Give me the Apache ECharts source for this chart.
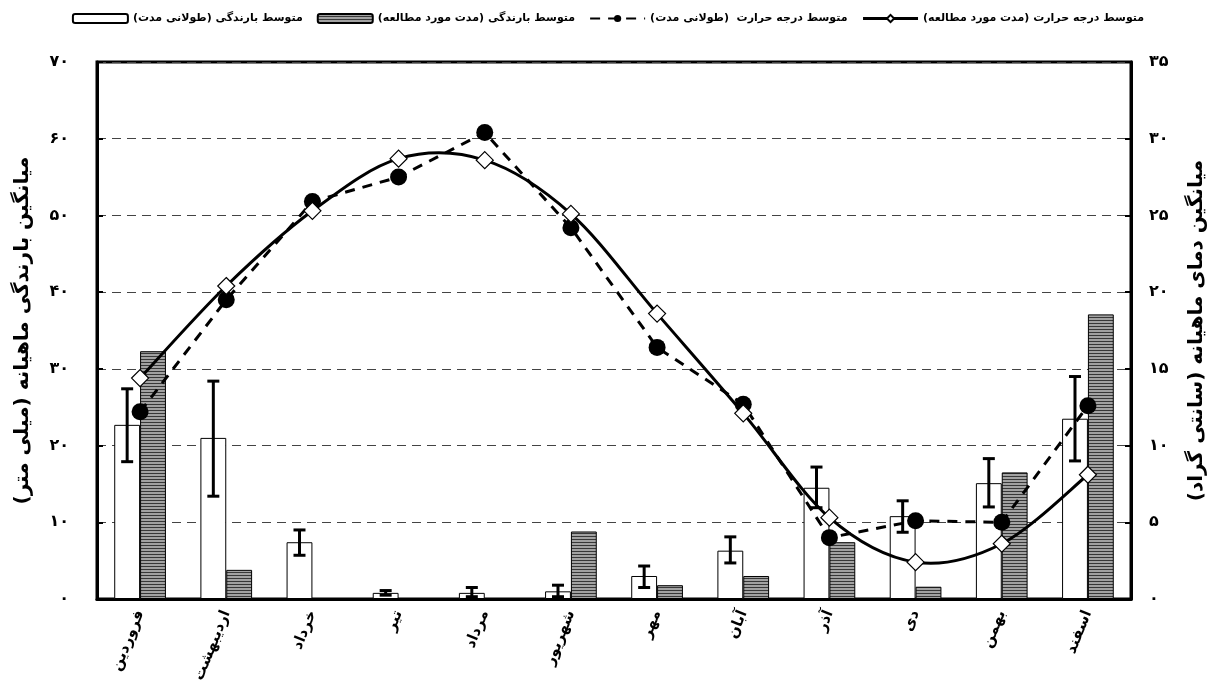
<!DOCTYPE html>
<html>
<head>
<meta charset="utf-8">
<script src="https://cdn.jsdelivr.net/npm/echarts@6/dist/echarts.min.js"></script>
<style>
  html, body { margin: 0; padding: 0; background: #fff; }
  #chart { width: 1216px; height: 688px; }
</style>
</head>
<body>
<div id="chart"></div>
<script>
// ماه‌ها
const months = ['فروردین', 'اردیبهشت', 'خرداد', 'تیر', 'مرداد', 'شهریور', 'مهر', 'آبان', 'آذر', 'دی', 'بهمن', 'اسفند']

// بارندگی (میلی متر)
const rainLong = [22.7, 21.0, 7.4, 0.8, 0.8, 1.0, 3.0, 6.3, 14.5, 10.8, 15.1, 23.5]
const rainLongLow = [17.9, 13.4, 5.7, 0.5, 0.3, 0.3, 1.5, 4.7, 11.9, 8.7, 12.0, 18.0]
const rainLongHigh = [27.4, 28.4, 9.0, 1.1, 1.5, 1.8, 4.3, 8.1, 17.2, 12.8, 18.3, 29.0]
const rainStudy = [32.3, 3.8, 0, 0, 0, 8.8, 1.8, 3.0, 7.4, 1.6, 16.5, 37.1]

// دما (سانتی گراد)
const tempLong = [12.2, 19.5, 25.9, 27.5, 30.4, 24.2, 16.4, 12.7, 4.0, 5.1, 5.0, 12.6]
const tempStudy = [14.4, 20.4, 25.3, 28.7, 28.6, 25.1, 18.6, 12.1, 5.3, 2.4, 3.6, 8.1]

const names = [
  'متوسط بارندگی (طولانی مدت)',
  'متوسط بارندگی (مدت مورد مطالعه)',
  'متوسط درجه حرارت  (طولانی مدت)',
  'متوسط درجه حرارت (مدت مورد مطالعه)'
]

const font = 'DejaVu Sans'
const faDigits = (v) => String(v).replace(/\d/g, (d) => '۰۱۲۳۴۵۶۷۸۹'[d])

// الگوی هاشور افقی
const makeHatch = () => {
  const c = document.createElement('canvas')
  c.width = 4
  c.height = 3
  const ctx = c.getContext('2d')
  ctx.fillStyle = '#a2a2a2'
  ctx.fillRect(0, 0, 4, 3)
  ctx.fillStyle = '#383838'
  ctx.fillRect(0, 2, 4, 1)
  return c
}

const errData = rainLong.map((v, i) => [i, rainLongLow[i], rainLongHigh[i]])
const curveData = tempStudy.map((v, i) => [i, v])

// منحنی هموار (مثل اکسل) بین هر دو نقطه
const renderCurve = (params, api) => {
  const i = params.dataIndex
  const n = tempStudy.length
  if (i >= n - 1) return null
  const p = (j) => {
    const k = Math.max(0, Math.min(n - 1, j))
    return api.coord([k, tempStudy[k]])
  }
  const p0 = p(i - 1)
  const p1 = p(i)
  const p2 = p(i + 1)
  const p3 = p(i + 2)
  return {
    type: 'bezierCurve',
    shape: {
      x1: p1[0],
      y1: p1[1],
      x2: p2[0],
      y2: p2[1],
      cpx1: p1[0] + (p2[0] - p0[0]) / 6,
      cpy1: p1[1] + (p2[1] - p0[1]) / 6,
      cpx2: p2[0] - (p3[0] - p1[0]) / 6,
      cpy2: p2[1] - (p3[1] - p1[1]) / 6
    },
    style: { stroke: '#000', lineWidth: 3, fill: null }
  }
}

const chart = echarts.init(document.getElementById('chart'))

const option = {
  animation: false,
  backgroundColor: '#fff',
  textStyle: { fontFamily: font },
  legend: {
    top: 8,
    left: 'center',
    align: 'left',
    itemGap: 14,
    itemWidth: 55,
    itemHeight: 9,
    textStyle: { fontFamily: font, fontWeight: 'bold', fontSize: 11, color: '#000' },
    data: [
      names[0],
      names[1],
      names[2],
      { name: names[3], lineStyle: { opacity: 1, width: 3, color: '#000' } }
    ]
  },
  grid: {
    left: 97,
    right: 85,
    top: 62,
    bottom: 89,
    show: true,
    borderColor: '#000',
    borderWidth: 3
  },
  xAxis: {
    type: 'category',
    data: months,
    axisLine: { lineStyle: { color: '#000', width: 3 } },
    axisTick: { inside: true, length: 6, lineStyle: { color: '#000', width: 3 } },
    axisLabel: {
      rotate: 68,
      margin: 12,
      fontFamily: font,
      fontWeight: 'bold',
      fontSize: 15,
      color: '#000'
    }
  },
  yAxis: [
    {
      type: 'value',
      min: 0,
      max: 70,
      interval: 10,
      name: 'میانگین بارندگی ماهیانه (میلی متر)',
      nameLocation: 'middle',
      nameRotate: 90,
      nameGap: 64,
      nameTextStyle: { fontFamily: font, fontWeight: 'bold', fontSize: 20, color: '#000' },
      axisLine: { show: true, lineStyle: { color: '#000', width: 3 } },
      axisTick: { show: true, inside: true, length: 6, lineStyle: { color: '#000', width: 2 } },
      axisLabel: {
        margin: 28,
        fontFamily: font,
        fontWeight: 'bold',
        fontSize: 16,
        color: '#000',
        formatter: faDigits
      },
      splitLine: { show: true, lineStyle: { color: '#444', width: 1, type: [9, 6] } }
    },
    {
      type: 'value',
      min: 0,
      max: 35,
      interval: 5,
      name: 'میانگین دمای ماهیانه (سانتی گراد)',
      nameLocation: 'middle',
      nameRotate: 90,
      nameGap: 56,
      nameTextStyle: { fontFamily: font, fontWeight: 'bold', fontSize: 20, color: '#000' },
      axisLine: { show: true, lineStyle: { color: '#000', width: 3 } },
      axisTick: { show: true, inside: true, length: 6, lineStyle: { color: '#000', width: 2 } },
      axisLabel: {
        margin: 18,
        fontFamily: font,
        fontWeight: 'bold',
        fontSize: 16,
        color: '#000',
        formatter: faDigits
      },
      splitLine: { show: false }
    }
  ],
  series: [
    {
      name: names[0],
      type: 'bar',
      data: rainLong,
      barWidth: '30%',
      barGap: '0%',
      z: 2,
      itemStyle: { color: '#fff', borderColor: '#000', borderWidth: 1 }
    },
    {
      name: names[1],
      type: 'bar',
      data: rainStudy,
      barWidth: '30%',
      barGap: '0%',
      z: 2,
      itemStyle: {
        color: { image: makeHatch(), repeat: 'repeat' },
        borderColor: '#000',
        borderWidth: 1
      }
    },
    {
      name: 'err',
      type: 'custom',
      data: errData,
      z: 3,
      silent: true,
      encode: { x: 0, y: [1, 2] },
      renderItem: (params, api) => {
        const band = api.size([1, 0])[0]
        const lo = api.coord([api.value(0), api.value(1)])
        const hi = api.coord([api.value(0), api.value(2)])
        const x = lo[0] - band * 0.15
        const cap = 6
        const style = { stroke: '#000', lineWidth: 3 }
        return {
          type: 'group',
          children: [
            { type: 'line', shape: { x1: x, y1: lo[1], x2: x, y2: hi[1] }, style },
            { type: 'line', shape: { x1: x - cap, y1: lo[1], x2: x + cap, y2: lo[1] }, style },
            { type: 'line', shape: { x1: x - cap, y1: hi[1], x2: x + cap, y2: hi[1] }, style }
          ]
        }
      }
    },
    {
      name: names[2],
      type: 'line',
      yAxisIndex: 1,
      data: tempLong,
      z: 4,
      symbol: 'circle',
      symbolSize: 17,
      itemStyle: { color: '#000' },
      lineStyle: { color: '#000', width: 3, type: [10, 8] }
    },
    {
      name: 'curve',
      type: 'custom',
      yAxisIndex: 1,
      data: curveData,
      z: 5,
      silent: true,
      encode: { x: 0, y: 1 },
      renderItem: renderCurve
    },
    {
      name: names[3],
      type: 'line',
      yAxisIndex: 1,
      data: tempStudy,
      z: 6,
      symbol: 'diamond',
      symbolSize: 17,
      itemStyle: { color: '#fff', borderColor: '#000', borderWidth: 1.2 },
      lineStyle: { color: '#000', width: 3, opacity: 0 }
    }
  ]
}

chart.setOption(option)
</script>
</body>
</html>
